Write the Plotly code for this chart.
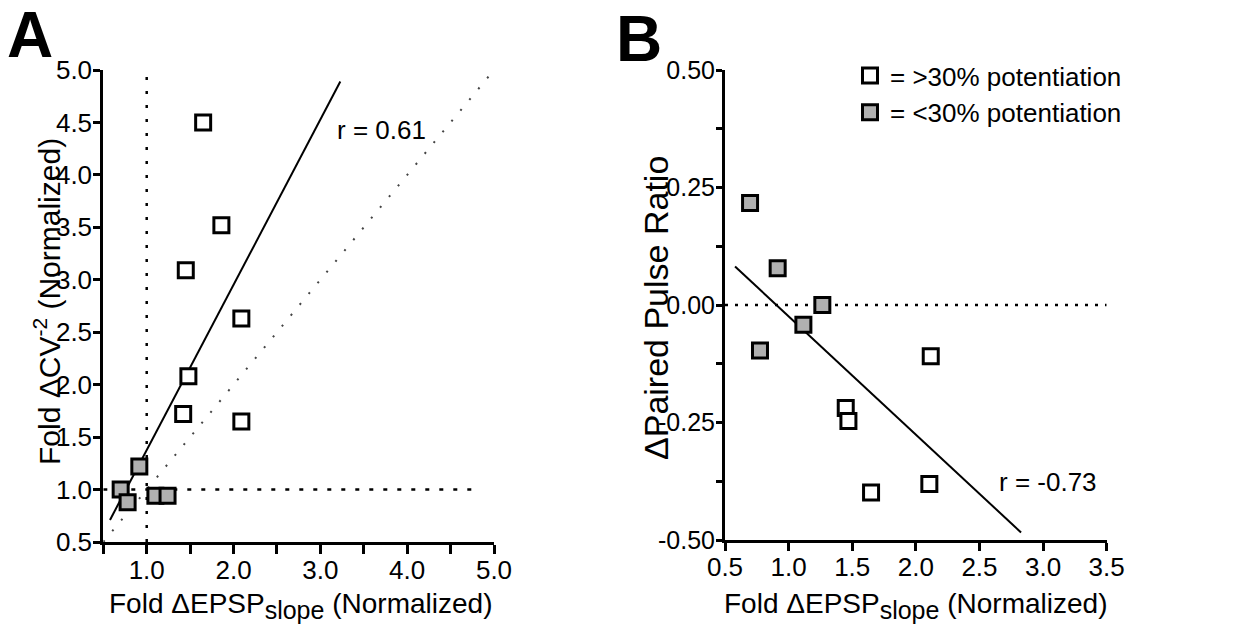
import plotly.graph_objects as go

W, H = 1235, 634

# ---- Panel A: fold change in CV^-2 vs fold change in EPSP slope ----
a_open_x = [1.65, 1.86, 1.45, 2.09, 1.48, 1.42, 2.09]
a_open_y = [4.50, 3.52, 3.09, 2.63, 2.08, 1.72, 1.65]
a_gray_x = [0.915, 0.70, 0.78, 1.10, 1.24]
a_gray_y = [1.22, 1.00, 0.88, 0.94, 0.94]
a_fit_x = [0.577, 3.23]
a_fit_y = [0.71, 4.89]
a_identity = [0.5, 4.95]
a_r_text = "r = 0.61"

# ---- Panel B: change in paired pulse ratio vs fold change in EPSP slope ----
b_open_x = [2.117, 1.449, 1.47, 1.648, 2.106]
b_open_y = [-0.109, -0.219, -0.247, -0.399, -0.381]
b_gray_x = [0.697, 0.914, 1.265, 1.116, 0.775]
b_gray_y = [0.217, 0.078, 0.0, -0.042, -0.097]
b_fit_x = [0.579, 2.827]
b_fit_y = [0.082, -0.484]
b_r_text = "r = -0.73"

# tick definitions (labelled ticks plus unlabelled intermediate ticks)
a_xticks = [1.0, 2.0, 3.0, 4.0, 5.0]
a_xlabels = ["1.0", "2.0", "3.0", "4.0", "5.0"]
a_xminor = [0.5, 1.5, 2.5, 3.5, 4.5]
a_yticks = [0.5, 1.0, 1.5, 2.0, 2.5, 3.0, 3.5, 4.0, 4.5, 5.0]
a_ylabels = ["0.5", "1.0", "1.5", "2.0", "2.5", "3.0", "3.5", "4.0", "4.5", "5.0"]
b_xticks = [0.5, 1.0, 1.5, 2.0, 2.5, 3.0, 3.5]
b_xlabels = ["0.5", "1.0", "1.5", "2.0", "2.5", "3.0", "3.5"]
b_yticks = [-0.5, -0.25, 0.0, 0.25, 0.5]
b_ylabels = ["-0.50", "-0.25", "0.00", "0.25", "0.50"]
b_yminor = [-0.375, -0.125, 0.125, 0.375]

legend_open = "= >30% potentiation"
legend_gray = "= <30% potentiation"

FONT = "Liberation Sans, Arial, Helvetica, sans-serif"
GRAY_FILL = "#b0b0b0"


def px_x(p):
    return p / W


def px_y(p):
    return 1 - p / H


fig = go.Figure()

# reference lines, panel A
fig.add_trace(go.Scatter(x=[1.0, 1.0], y=[0.5, 5.0], mode="lines",
                         line=dict(color="black", width=2.5, dash="3px,11px"),
                         xaxis="x", yaxis="y", showlegend=False, hoverinfo="skip"))
fig.add_trace(go.Scatter(x=[0.5, 4.85], y=[1.0, 1.0], mode="lines",
                         line=dict(color="black", width=2.5, dash="4px,10px"),
                         xaxis="x", yaxis="y", showlegend=False, hoverinfo="skip"))
fig.add_trace(go.Scatter(x=a_identity, y=a_identity, mode="lines",
                         line=dict(color="#444444", width=2, dash="2px,12px"),
                         xaxis="x", yaxis="y", showlegend=False, hoverinfo="skip"))
fig.add_trace(go.Scatter(x=a_fit_x, y=a_fit_y, mode="lines",
                         line=dict(color="black", width=2),
                         xaxis="x", yaxis="y", showlegend=False, hoverinfo="skip"))

# reference lines, panel B
fig.add_trace(go.Scatter(x=[0.5, 3.5], y=[0.0, 0.0], mode="lines",
                         line=dict(color="black", width=2.5, dash="3px,7px"),
                         xaxis="x2", yaxis="y2", showlegend=False, hoverinfo="skip"))
fig.add_trace(go.Scatter(x=b_fit_x, y=b_fit_y, mode="lines",
                         line=dict(color="black", width=2),
                         xaxis="x2", yaxis="y2", showlegend=False, hoverinfo="skip"))

marker_open = dict(symbol="square", size=15, color="white",
                   line=dict(color="black", width=3))
marker_gray = dict(symbol="square", size=15, color=GRAY_FILL,
                   line=dict(color="black", width=3))

fig.add_trace(go.Scatter(x=a_open_x, y=a_open_y, mode="markers", marker=marker_open,
                         xaxis="x", yaxis="y", showlegend=False))
fig.add_trace(go.Scatter(x=a_gray_x, y=a_gray_y, mode="markers", marker=marker_gray,
                         xaxis="x", yaxis="y", showlegend=False))
fig.add_trace(go.Scatter(x=b_open_x, y=b_open_y, mode="markers", marker=marker_open,
                         xaxis="x2", yaxis="y2", name=legend_open, legendgroup="g1"))
fig.add_trace(go.Scatter(x=b_gray_x, y=b_gray_y, mode="markers", marker=marker_gray,
                         xaxis="x2", yaxis="y2", name=legend_gray, legendgroup="g2"))

axis_common = dict(showline=True, linewidth=3, linecolor="black", ticks="outside",
                   tickwidth=3, tickcolor="black", showgrid=False, zeroline=False,
                   automargin=False, mirror=False)


def tick_font(size):
    return dict(family=FONT, size=size, color="black")


def minor_ticks(vals, length):
    return dict(tickmode="array", tickvals=vals, ticks="outside", ticklen=length,
                tickwidth=3, tickcolor="black", showgrid=False)


fig.update_layout(
    template="none",
    width=W, height=H,
    margin=dict(l=0, r=0, t=0, b=0, pad=0, autoexpand=False),
    paper_bgcolor="white", plot_bgcolor="white",
    font=dict(family=FONT, color="black"),
    xaxis=dict(domain=[px_x(103.3), px_x(494)], range=[0.5, 5.0],
               tickmode="array", tickvals=a_xticks, ticktext=a_xlabels,
               minor=minor_ticks(a_xminor, 9),
               ticklen=9, anchor="y", tickfont=tick_font(26), ticklabelstandoff=-6,
               **axis_common),
    yaxis=dict(domain=[px_y(542), px_y(70)], range=[0.5, 5.0],
               tickmode="array", tickvals=a_yticks, ticktext=a_ylabels,
               ticklen=7, anchor="x", tickfont=tick_font(26), ticklabelstandoff=-4,
               **axis_common),
    xaxis2=dict(domain=[px_x(725), px_x(1106.7)], range=[0.5, 3.5],
                tickmode="array", tickvals=b_xticks, ticktext=b_xlabels,
                ticklen=8, anchor="y2", tickfont=tick_font(26), ticklabelstandoff=-6,
                **axis_common),
    yaxis2=dict(domain=[px_y(540), px_y(70)], range=[-0.5, 0.5],
                tickmode="array", tickvals=b_yticks, ticktext=b_ylabels,
                minor=minor_ticks(b_yminor, 6),
                ticklen=6, anchor="x2", tickfont=tick_font(25), ticklabelstandoff=-4,
                **axis_common),
    showlegend=True,
    legend=dict(x=px_x(850), y=px_y(52), xanchor="left", yanchor="top",
                font=dict(family=FONT, size=26, color="black"),
                bgcolor="rgba(0,0,0,0)", traceorder="grouped", tracegroupgap=0,
                itemsizing="trace"),
)

title_font = dict(family=FONT, size=28, color="black")
annotations = [
    # panel letters
    dict(text="<b>A</b>", x=px_x(30), y=px_y(35), xref="paper", yref="paper",
         xanchor="center", yanchor="middle",
         showarrow=False, font=dict(family=FONT, size=64, color="black")),
    dict(text="<b>B</b>", x=px_x(639), y=px_y(39), xref="paper", yref="paper",
         xanchor="center", yanchor="middle",
         showarrow=False, font=dict(family=FONT, size=64, color="black")),
    # axis titles
    dict(text="Fold ΔEPSP<sub><span style='font-size:25px'>slope</span></sub> (Normalized)",
         x=px_x(300), y=px_y(606), xref="paper", yref="paper", showarrow=False,
         xanchor="center", yanchor="middle", font=title_font),
    dict(text="Fold ΔEPSP<sub><span style='font-size:25px'>slope</span></sub> (Normalized)",
         x=px_x(915), y=px_y(606), xref="paper", yref="paper", showarrow=False,
         xanchor="center", yanchor="middle", font=title_font),
    dict(text="Fold ΔCV<sup>-2</sup> (Normalized)", textangle=-90,
         x=px_x(47), y=px_y(302), xref="paper", yref="paper", showarrow=False,
         xanchor="center", yanchor="middle",
         font=dict(family=FONT, size=30, color="black")),
    dict(text="ΔPaired Pulse Ratio", textangle=-90,
         x=px_x(656), y=px_y(308), xref="paper", yref="paper", showarrow=False,
         xanchor="center", yanchor="middle",
         font=dict(family=FONT, size=34, color="black")),
    # correlation coefficients
    dict(text=a_r_text, x=3.17, y=4.43, xref="x", yref="y", xanchor="left",
         yanchor="middle",
         showarrow=False, font=dict(family=FONT, size=26, color="black")),
    dict(text=b_r_text, x=2.636, y=-0.376, xref="x2", yref="y2", xanchor="left",
         yanchor="middle",
         showarrow=False, font=dict(family=FONT, size=26, color="black")),
]
fig.update_layout(annotations=annotations)

fig.write_html("out.html")
